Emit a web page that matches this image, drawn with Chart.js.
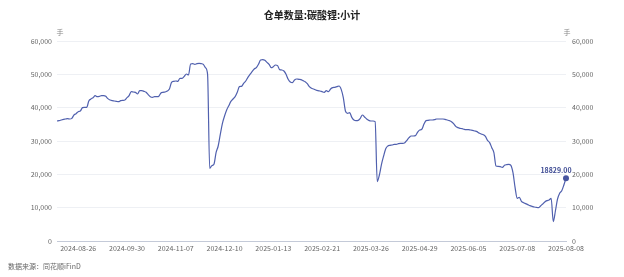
<!DOCTYPE html>
<html>
<head>
<meta charset="utf-8">
<script src="https://cdn.jsdelivr.net/npm/chart.js@4/dist/chart.umd.min.js"></script>
<style>
  html, body { margin: 0; padding: 0; background: #ffffff; }
  #wrap { width: 624px; height: 277px; position: relative; }
</style>
</head>
<body>
<div id="wrap"><canvas id="c" width="624" height="277"></canvas></div>
<script>
// Trading days (SHFE/GFEX calendar), 2024-08-12 .. 2025-08-08
const dates = [
  '2024-08-12','2024-08-13','2024-08-14','2024-08-15','2024-08-16',
  '2024-08-19','2024-08-20','2024-08-21','2024-08-22','2024-08-23',
  '2024-08-26','2024-08-27','2024-08-28','2024-08-29','2024-08-30',
  '2024-09-02','2024-09-03','2024-09-04','2024-09-05','2024-09-06',
  '2024-09-09','2024-09-10','2024-09-11','2024-09-12','2024-09-13',
  '2024-09-18','2024-09-19','2024-09-20',
  '2024-09-23','2024-09-24','2024-09-25','2024-09-26','2024-09-27',
  '2024-09-30',
  '2024-10-08','2024-10-09','2024-10-10','2024-10-11',
  '2024-10-14','2024-10-15','2024-10-16','2024-10-17','2024-10-18',
  '2024-10-21','2024-10-22','2024-10-23','2024-10-24','2024-10-25',
  '2024-10-28','2024-10-29','2024-10-30','2024-10-31','2024-11-01',
  '2024-11-04','2024-11-05','2024-11-06','2024-11-07','2024-11-08',
  '2024-11-11','2024-11-12','2024-11-13','2024-11-14','2024-11-15',
  '2024-11-18','2024-11-19','2024-11-20','2024-11-21','2024-11-22',
  '2024-11-25','2024-11-26','2024-11-27','2024-11-28','2024-11-29',
  '2024-12-02','2024-12-03','2024-12-04','2024-12-05','2024-12-06',
  '2024-12-09','2024-12-10','2024-12-11','2024-12-12','2024-12-13',
  '2024-12-16','2024-12-17','2024-12-18','2024-12-19','2024-12-20',
  '2024-12-23','2024-12-24','2024-12-25','2024-12-26','2024-12-27',
  '2024-12-30','2024-12-31','2025-01-02','2025-01-03',
  '2025-01-06','2025-01-07','2025-01-08','2025-01-09','2025-01-10',
  '2025-01-13','2025-01-14','2025-01-15','2025-01-16','2025-01-17',
  '2025-01-20','2025-01-21','2025-01-22','2025-01-23','2025-01-24',
  '2025-01-27',
  '2025-02-05','2025-02-06','2025-02-07',
  '2025-02-10','2025-02-11','2025-02-12','2025-02-13','2025-02-14',
  '2025-02-17','2025-02-18','2025-02-19','2025-02-20','2025-02-21',
  '2025-02-24','2025-02-25','2025-02-26','2025-02-27','2025-02-28',
  '2025-03-03','2025-03-04','2025-03-05','2025-03-06','2025-03-07',
  '2025-03-10','2025-03-11','2025-03-12','2025-03-13','2025-03-14',
  '2025-03-17','2025-03-18','2025-03-19','2025-03-20','2025-03-21',
  '2025-03-24','2025-03-25','2025-03-26','2025-03-27','2025-03-28',
  '2025-03-31','2025-04-01','2025-04-02','2025-04-03',
  '2025-04-07','2025-04-08','2025-04-09','2025-04-10','2025-04-11',
  '2025-04-14','2025-04-15','2025-04-16','2025-04-17','2025-04-18',
  '2025-04-21','2025-04-22','2025-04-23','2025-04-24','2025-04-25',
  '2025-04-28','2025-04-29','2025-04-30',
  '2025-05-06','2025-05-07','2025-05-08','2025-05-09',
  '2025-05-12','2025-05-13','2025-05-14','2025-05-15','2025-05-16',
  '2025-05-19','2025-05-20','2025-05-21','2025-05-22','2025-05-23',
  '2025-05-26','2025-05-27','2025-05-28','2025-05-29','2025-05-30',
  '2025-06-03','2025-06-04','2025-06-05','2025-06-06',
  '2025-06-09','2025-06-10','2025-06-11','2025-06-12','2025-06-13',
  '2025-06-16','2025-06-17','2025-06-18','2025-06-19','2025-06-20',
  '2025-06-23','2025-06-24','2025-06-25','2025-06-26','2025-06-27',
  '2025-06-30','2025-07-01','2025-07-02','2025-07-03','2025-07-04',
  '2025-07-07','2025-07-08','2025-07-09','2025-07-10','2025-07-11',
  '2025-07-14','2025-07-15','2025-07-16','2025-07-17','2025-07-18',
  '2025-07-21','2025-07-22','2025-07-23','2025-07-24','2025-07-25',
  '2025-07-28','2025-07-29','2025-07-30','2025-07-31','2025-08-01',
  '2025-08-04','2025-08-05','2025-08-06','2025-08-07','2025-08-08'
];

// 仓单数量:碳酸锂:小计 (手)
const receipts = [
  36000,36100,36300,36500,36600,36700,36600,36800,37800,38200,
  38800,39000,40000,40100,40100,42000,42600,43000,43600,43300,
  43400,43600,43600,43400,42700,42300,42100,42000,41900,41800,
  42100,42200,42300,43000,43600,44800,44700,44600,44100,45100,
  45100,44900,44600,43900,43300,43100,43300,43300,43400,44400,
  44600,44700,45000,45600,47600,47900,48000,47900,48800,48800,
  49400,50100,49800,53100,53200,53000,53200,53300,53200,53000,
  52000,50000,21800,22600,23000,26500,28500,32000,35300,37500,
  39300,40600,41900,42600,43300,44600,46300,46400,47300,48000,
  49100,50000,50800,51600,52000,53000,54300,54400,54200,53600,
  53000,52000,52300,52800,52600,51400,51300,51000,50000,48500,
  47700,47500,48300,48600,48500,48400,48100,47800,47200,46300,
  45800,45600,45300,45100,45000,44800,44600,45100,44800,45600,
  46000,46100,46300,46500,45500,43000,39000,38300,38500,37100,
  36300,36100,36200,36800,37800,37200,36600,36200,36000,36000,
  35800,17800,19800,23000,25500,27700,28500,28700,28800,29000,
  29000,29200,29300,29300,29500,30200,31000,31500,31500,31600,
  32600,33300,33500,35000,36100,36200,36300,36300,36400,36600,
  36600,36600,36600,36500,36300,36100,35800,35200,34400,34000,
  33800,33700,33500,33400,33400,33300,33200,33000,32800,32400,
  32100,31900,31400,30200,29500,28000,26500,22500,22400,22300,
  22100,22700,22900,23000,22700,20500,16000,12800,13100,11900,
  11500,11200,10900,10600,10400,10200,10100,10000,10500,11100,
  11700,12100,12300,12800,5800,9000,12600,14300,15100,16800,
  18829
];

const tickDates = [
  '2024-08-26','2024-09-30','2024-11-07','2024-12-10','2025-01-13',
  '2025-02-21','2025-03-26','2025-04-29','2025-06-05','2025-07-08','2025-08-08'
];

const yTicks = [0, 10000, 20000, 30000, 40000, 50000, 60000];

const titleText = '仓单数量:碳酸锂:小计';
const unitText = '手';
const sourceText = '数据来源：同花顺iFinD';

const FONT = '"Noto Sans CJK SC", "Noto Sans", sans-serif';
const LINE = '#5060ae';
const TICK = '#666666';

const lastIdx = receipts.length - 1;

const decorations = {
  id: 'decorations',
  afterDraw(chart) {
    const ctx = chart.ctx;
    const area = chart.chartArea;
    ctx.save();
    // title
    ctx.fillStyle = '#222222';
    ctx.font = 'bold 10px ' + FONT;
    ctx.textAlign = 'center';
    ctx.textBaseline = 'middle';
    ctx.fillText(titleText, 312, 15);
    // axis units
    ctx.fillStyle = '#888888';
    ctx.font = '7px ' + FONT;
    ctx.fillText(unitText, area.left + 3, 32);
    ctx.fillText(unitText, area.right + 1, 32);
    // source line
    ctx.textAlign = 'left';
    ctx.fillStyle = '#666666';
    ctx.fillText(sourceText, 8, 266);
    // value tag on the latest point
    const pt = chart.getDatasetMeta(0).data[lastIdx];
    ctx.fillStyle = '#3f4c94';
    ctx.font = 'bold 7px ' + FONT;
    ctx.textAlign = 'center';
    ctx.fillText(receipts[lastIdx].toFixed(2), pt.x - 10, pt.y - 8);
    ctx.restore();
  }
};

const fmt = v => Number(v).toLocaleString('en-US');

new Chart(document.getElementById('c'), {
  type: 'line',
  data: {
    labels: dates,
    datasets: [{
      data: receipts,
      borderColor: LINE,
      backgroundColor: LINE,
      borderWidth: 1.2,
      cubicInterpolationMode: 'monotone',
      pointRadius: ctx => (ctx.dataIndex === lastIdx ? 3 : 0),
      pointHoverRadius: 0,
      pointBackgroundColor: '#46549f',
      pointBorderWidth: 0,
      yAxisID: 'y'
    }]
  },
  options: {
    responsive: false,
    animation: false,
    events: [],
    layout: { padding: { top: 41, left: 0, right: 0, bottom: 0 } },
    plugins: { legend: { display: false }, tooltip: { enabled: false }, title: { display: false } },
    scales: {
      x: {
        type: 'category',
        offset: false,
        afterFit(scale) { scale.height = 36; },
        afterBuildTicks(scale) {
          scale.ticks = scale.ticks.filter(t => tickDates.includes(dates[t.value]));
        },
        grid: { display: false, drawTicks: false },
        border: { display: true, color: '#c4cad8', width: 1 },
        ticks: {
          autoSkip: false,
          maxRotation: 0,
          padding: 3,
          color: TICK,
          font: { family: FONT, size: 7 },
          callback(v) { return dates[v]; }
        }
      },
      y: {
        position: 'left',
        min: 0, max: 60000,
        afterFit(scale) { scale.width = 57; },
        afterBuildTicks(scale) { scale.ticks = yTicks.map(v => ({ value: v })); },
        grid: { color: '#eef0f4', drawTicks: false, lineWidth: 1 },
        border: { display: false },
        ticks: {
          padding: 5,
          color: TICK,
          font: { family: FONT, size: 7 },
          callback: fmt
        }
      },
      y2: {
        position: 'right',
        min: 0, max: 60000,
        afterFit(scale) { scale.width = 58; },
        afterBuildTicks(scale) { scale.ticks = yTicks.map(v => ({ value: v })); },
        grid: { display: false, drawTicks: false },
        border: { display: false },
        ticks: {
          padding: 6,
          color: TICK,
          font: { family: FONT, size: 7 },
          callback: fmt
        }
      }
    }
  },
  plugins: [decorations]
});
</script>
</body>
</html>
